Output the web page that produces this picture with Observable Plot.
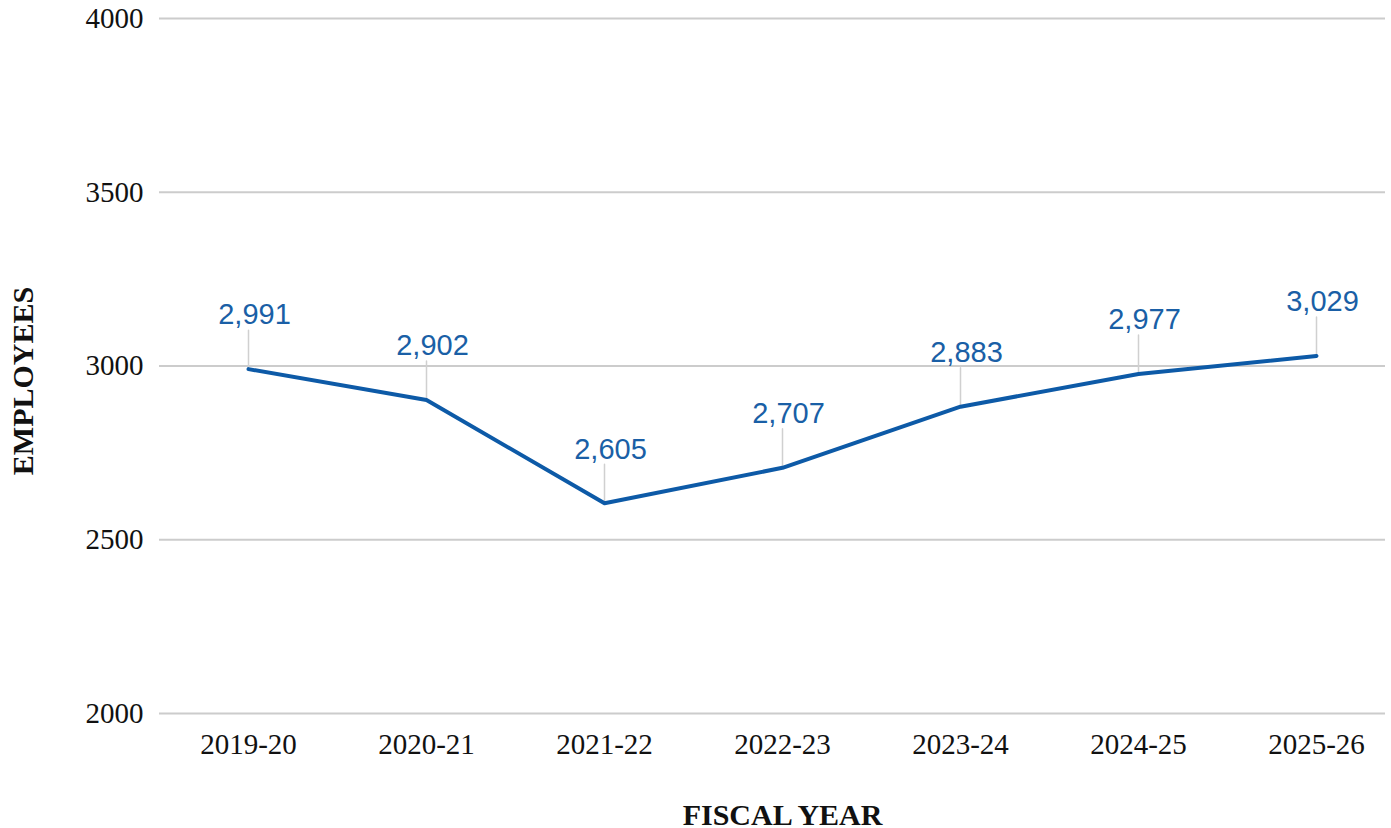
<!DOCTYPE html>
<html>
<head>
<meta charset="utf-8">
<script src="https://cdn.jsdelivr.net/npm/d3@7"></script>
<script src="https://cdn.jsdelivr.net/npm/@observablehq/plot@0.6"></script>
<style>
  html, body { margin: 0; padding: 0; background: #fff; }
</style>
</head>
<body>
<div id="chart"></div>
<script>
const years = ["2019-20", "2020-21", "2021-22", "2022-23", "2023-24", "2024-25", "2025-26"];
const employees = [2991, 2902, 2605, 2707, 2883, 2977, 3029];
const yTicks = [2000, 2500, 3000, 3500, 4000];
const yTitle = "EMPLOYEES";
const xTitle = "FISCAL YEAR";

const data = years.map((y, i) => ({year: y, value: employees[i]}));
const fmt = d3.format(",");

const serif = "'Liberation Serif', 'Times New Roman', Times, serif";
const sans = "'Liberation Sans', Arial, Helvetica, sans-serif";

const chart = Plot.plot({
  width: 1391,
  height: 828,
  marginTop: 18,
  marginBottom: 115,
  marginLeft: 159,
  marginRight: 6,
  insetLeft: 89,
  insetRight: 69,
  style: {background: "#fff", fontFamily: serif},
  x: {type: "point", domain: years, padding: 0},
  y: {domain: [2000, 4000]},
  marks: [
    Plot.gridY(yTicks, {stroke: "#cccccc", strokeOpacity: 1, strokeWidth: 2}),
    Plot.axisY(yTicks, {tickSize: 0, tickPadding: 16, fontSize: 29, fill: "#111", label: null, tickFormat: d => String(d)}),
    Plot.axisX({tickSize: 0, tickPadding: 20, fontSize: 29, fill: "#111", label: null}),
    Plot.vector(data, {x: "year", y: "value", length: 39, rotate: 0, anchor: "start", shape: "spike", r: 0, stroke: "#d0d0d0", strokeWidth: 1.5, fill: "none"}),
    Plot.line(data, {x: "year", y: "value", stroke: "#0d5aa7", strokeWidth: 4, strokeLinejoin: "round"}),
    Plot.text(data, {x: "year", y: "value", text: d => fmt(d.value), dx: 6, dy: -54, fontSize: 29, fontFamily: sans, fill: "#1a5fa6"}),
    Plot.text([yTitle], {frameAnchor: "left", textAnchor: "middle", lineAnchor: "middle", dx: -136, dy: 15, rotate: -90, text: d => d, fontSize: 30, fontWeight: "bold", fill: "#111"}),
    Plot.text([xTitle], {frameAnchor: "bottom", textAnchor: "middle", lineAnchor: "middle", dx: 10, dy: 102, text: d => d, fontSize: 30, fontWeight: "bold", fill: "#111"})
  ]
});
document.getElementById("chart").appendChild(chart);
</script>
</body>
</html>
